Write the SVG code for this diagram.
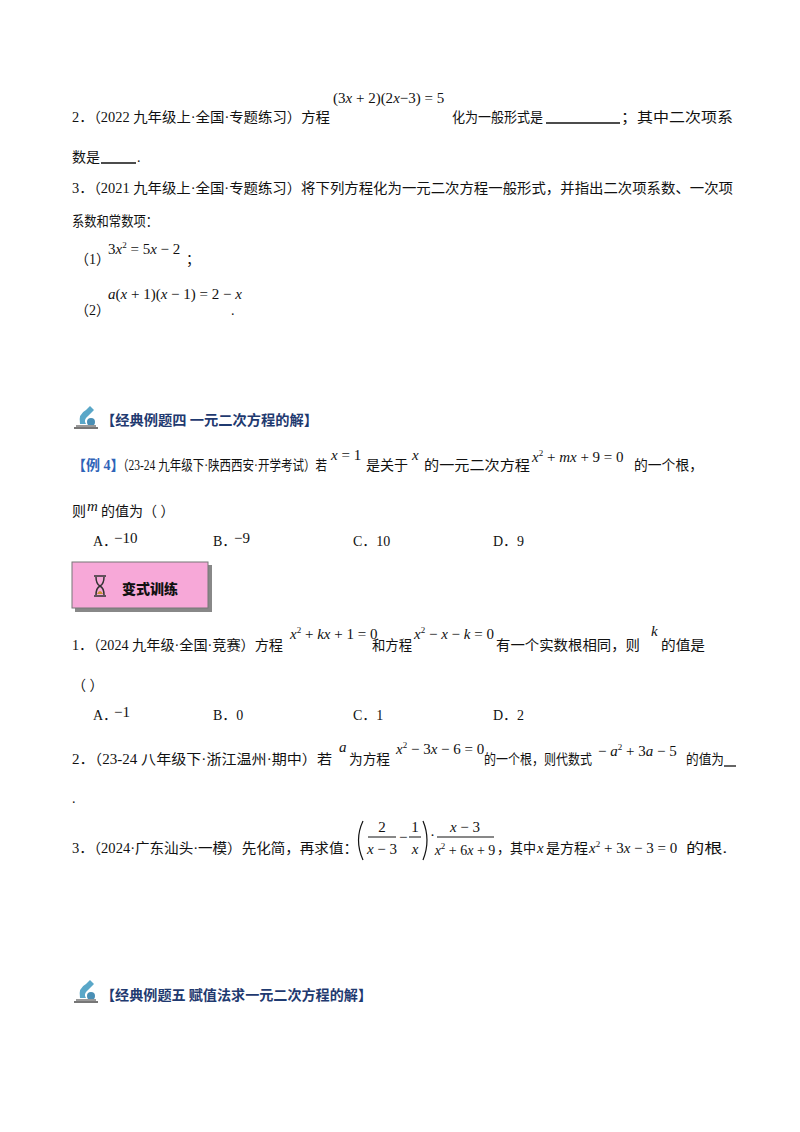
<svg xmlns="http://www.w3.org/2000/svg" width="800" height="1132" viewBox="0 0 800 1132">
<style>
text{font-family:"Liberation Serif","Noto Sans CJK SC",serif;font-size:14px;fill:#111}
.m{font-style:italic}
.mn{font-size:15px}
.s{font-size:9px}
.h{font-family:"Noto Sans CJK SC",sans-serif;font-weight:bold;fill:#1f3a70;font-size:14px}
.b{fill:#2e63b8;font-weight:bold}
.u{stroke:#111;stroke-width:1.3}
</style>
<rect width="800" height="1132" fill="#fff"/>
<defs>
<g id="icon">
<path d="M2 24 L26 24" stroke="#777" stroke-width="2"/>
<path d="M8 20 Q6 10 14 6 L18 2 L22 6 L16 12 Q11 16 14 20 Z" fill="#5aa7c8"/>
<circle cx="19" cy="18" r="4" fill="#4a8fb5"/>
<path d="M4 22 L24 22" stroke="#999" stroke-width="2"/>
</g>
</defs>
<g id="q2">
<text x="72" y="122" textLength="258" lengthAdjust="spacingAndGlyphs">2．（2022 九年级上·全国·专题练习）方程</text>
<text x="333" y="103" class="mn">(3<tspan class="m">x</tspan> + 2)(2<tspan class="m">x</tspan>−3) = 5</text>
<text x="452" y="122" textLength="91" lengthAdjust="spacingAndGlyphs">化为一般形式是</text>
<line x1="546" y1="123" x2="620" y2="123" class="u"/>
<text x="621" y="122" textLength="112" lengthAdjust="spacingAndGlyphs">；其中二次项系</text>
<text x="72" y="162" textLength="28" lengthAdjust="spacingAndGlyphs">数是</text>
<line x1="101" y1="163" x2="136" y2="163" class="u"/>
<text x="137" y="162">.</text>
</g>
<g id="q3">
<text x="72" y="193" textLength="661" lengthAdjust="spacingAndGlyphs">3．（2021 九年级上·全国·专题练习）将下列方程化为一元二次方程一般形式，并指出二次项系数、一次项</text>
<text x="72" y="226" textLength="86" lengthAdjust="spacingAndGlyphs">系数和常数项：</text>
<text x="75" y="264">（1）</text>
<text x="108" y="254" class="mn">3<tspan class="m">x</tspan><tspan class="s" dy="-6">2</tspan><tspan dy="6"> = 5</tspan><tspan class="m">x</tspan> − 2</text>
<text x="186" y="264">；</text>
<text x="75" y="315">（2）</text>
<text x="108" y="299" class="mn"><tspan class="m">a</tspan>(<tspan class="m">x</tspan> + 1)(<tspan class="m">x</tspan> − 1) = 2 − <tspan class="m">x</tspan></text>
<text x="231" y="315">.</text>
</g>
<g id="h4">
<use href="#icon" x="72" y="404"/>
<text x="101" y="425" class="h" textLength="217" lengthAdjust="spacingAndGlyphs">【经典例题四  一元二次方程的解】</text>
</g>
<g id="ex4">
<text x="72" y="470" class="b">【例 4】</text>
<text x="117" y="470" textLength="210" lengthAdjust="spacingAndGlyphs">（23-24 九年级下·陕西西安·开学考试）若</text>
<text x="331" y="460" class="mn"><tspan class="m">x</tspan> = 1</text>
<text x="366" y="470" textLength="42" lengthAdjust="spacingAndGlyphs">是关于</text>
<text x="412" y="460" class="mn m">x</text>
<text x="424" y="470" textLength="106" lengthAdjust="spacingAndGlyphs">的一元二次方程</text>
<text x="532" y="462" class="mn"><tspan class="m">x</tspan><tspan class="s" dy="-6">2</tspan><tspan dy="6"> + </tspan><tspan class="m">mx</tspan> + 9 = 0</text>
<text x="634" y="470" textLength="69" lengthAdjust="spacingAndGlyphs">的一个根，</text>
<text x="72" y="516">则</text>
<text x="87" y="511" class="mn m">m</text>
<text x="101" y="516">的值为（    ）</text>
<text x="93" y="546">A．</text><text x="114" y="543" class="mn">−10</text>
<text x="213" y="546">B．</text><text x="234" y="543" class="mn">−9</text>
<text x="353" y="546">C．10</text>
<text x="493" y="546">D．9</text>
</g>
<g id="box">
<rect x="75" y="565" width="137" height="47" fill="#888"/>
<rect x="72" y="562" width="136" height="46" fill="#f7a8d8" stroke="#777" stroke-width="1"/>
<path d="M94 576 H106 M94 596 H106 M96 577 Q96 584 100 586 Q96 588 96 595 M104 577 Q104 584 100 586 Q104 588 104 595" stroke="#333" stroke-width="1.5" fill="none"/>
<path d="M97 594 Q100 588 103 594 Z" fill="#c89030"/>
<text x="122" y="594" font-family="Noto Sans CJK SC,sans-serif" font-weight="900" font-size="20">变式训练</text>
</g>
<g id="v1">
<text x="72" y="650" textLength="211" lengthAdjust="spacingAndGlyphs">1．（2024 九年级·全国·竞赛）方程</text>
<text x="290" y="639" class="mn"><tspan class="m">x</tspan><tspan class="s" dy="-6">2</tspan><tspan dy="6"> + </tspan><tspan class="m">kx</tspan> + 1 = 0</text>
<text x="372" y="650" textLength="40" lengthAdjust="spacingAndGlyphs">和方程</text>
<text x="414" y="639" class="mn"><tspan class="m">x</tspan><tspan class="s" dy="-6">2</tspan><tspan dy="6"> − </tspan><tspan class="m">x</tspan> − <tspan class="m">k</tspan> = 0</text>
<text x="496" y="650" textLength="144" lengthAdjust="spacingAndGlyphs">有一个实数根相同，则</text>
<text x="651" y="636" class="mn m">k</text>
<text x="661" y="650" textLength="44" lengthAdjust="spacingAndGlyphs">的值是</text>
<text x="72" y="690">（    ）</text>
<text x="93" y="720">A．</text><text x="114" y="717" class="mn">−1</text>
<text x="213" y="720">B．0</text>
<text x="353" y="720">C．1</text>
<text x="493" y="720">D．2</text>
</g>
<g id="v2">
<text x="72" y="764" textLength="260" lengthAdjust="spacingAndGlyphs">2．（23-24 八年级下·浙江温州·期中）若</text>
<text x="339" y="752" class="mn m">a</text>
<text x="349" y="764" textLength="41" lengthAdjust="spacingAndGlyphs">为方程</text>
<text x="396" y="754" class="mn"><tspan class="m">x</tspan><tspan class="s" dy="-6">2</tspan><tspan dy="6"> − 3</tspan><tspan class="m">x</tspan> − 6 = 0</text>
<text x="484" y="764" textLength="108" lengthAdjust="spacingAndGlyphs">的一个根，则代数式</text>
<text x="598" y="756" class="mn">− <tspan class="m">a</tspan><tspan class="s" dy="-6">2</tspan><tspan dy="6"> + 3</tspan><tspan class="m">a</tspan> − 5</text>
<text x="686" y="764" textLength="38" lengthAdjust="spacingAndGlyphs">的值为</text>
<line x1="724" y1="766" x2="736" y2="766" class="u"/>
<text x="72" y="803">.</text>
</g>
<g id="v3">
<text x="72" y="853" textLength="286" lengthAdjust="spacingAndGlyphs">3．（2024·广东汕头·一模）先化简，再求值：</text>
<path d="M363 821 Q354 840 363 860" stroke="#111" fill="none" stroke-width="1.2"/>
<text x="382" y="832" class="mn" text-anchor="middle">2</text>
<line x1="368" y1="837" x2="396" y2="837" stroke="#111"/>
<text x="382" y="854" class="mn" text-anchor="middle"><tspan class="m">x</tspan> − 3</text>
<text x="399" y="842" class="mn">−</text>
<text x="415" y="832" class="mn" text-anchor="middle">1</text>
<line x1="409" y1="837" x2="421" y2="837" stroke="#111"/>
<text x="415" y="854" class="mn m" text-anchor="middle">x</text>
<path d="M423 821 Q431 840 423 860" stroke="#111" fill="none" stroke-width="1.2"/>
<text x="430" y="840" class="mn">·</text>
<text x="465" y="832" class="mn" text-anchor="middle"><tspan class="m">x</tspan> − 3</text>
<line x1="437" y1="837" x2="494" y2="837" stroke="#111"/>
<text x="465" y="855" text-anchor="middle"><tspan class="m">x</tspan><tspan class="s" dy="-6">2</tspan><tspan dy="6"> + 6</tspan><tspan class="m">x</tspan> + 9</text>
<text x="497" y="853" textLength="39" lengthAdjust="spacingAndGlyphs">，其中</text>
<text x="537" y="853" class="mn m">x</text>
<text x="546" y="853" textLength="42" lengthAdjust="spacingAndGlyphs">是方程</text>
<text x="589" y="853" class="mn"><tspan class="m">x</tspan><tspan class="s" dy="-6">2</tspan><tspan dy="6"> + 3</tspan><tspan class="m">x</tspan> − 3 = 0</text>
<text x="686" y="853" textLength="41" lengthAdjust="spacingAndGlyphs">的根.</text>
</g>
<g id="h5">
<use href="#icon" x="72" y="978"/>
<text x="101" y="1000" class="h" textLength="271" lengthAdjust="spacingAndGlyphs">【经典例题五  赋值法求一元二次方程的解】</text>
</g>
</svg>
